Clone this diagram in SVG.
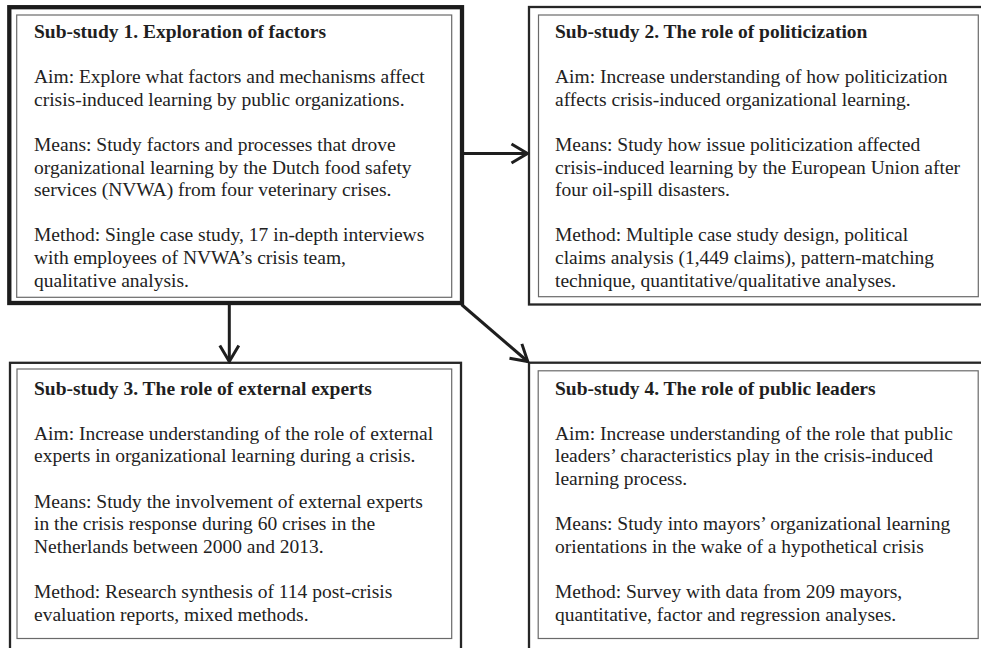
<svg xmlns="http://www.w3.org/2000/svg" width="981" height="648" viewBox="0 0 981 648">
  <defs>
    <style>
      .outer { fill: none; stroke: #262626; stroke-width: 2.3; }
      .outer-main { fill: none; stroke: #1c1c1c; stroke-width: 4.3; }
      .inner { fill: none; stroke: #6a6a6a; stroke-width: 1.2; }
      .title { font-family: "Liberation Serif", "Times New Roman", serif; font-size: 19.5px; font-weight: bold; fill: #1f1f1f; }
      .body { font-family: "Liberation Serif", "Times New Roman", serif; font-size: 19.5px; fill: #222; }
      .conn { fill: none; stroke: #1e1e1e; stroke-width: 3; }
    </style>
    <marker id="chevron" viewBox="-19 -12 21 24" markerWidth="21" markerHeight="24" refX="0" refY="0" orient="auto" markerUnits="userSpaceOnUse">
      <path d="M-16,-9.5 L0,0 L-16,9.5" fill="none" stroke="#1e1e1e" stroke-width="3" stroke-linejoin="miter"/>
    </marker>
  </defs>
  <rect width="981" height="648" fill="#ffffff"/>

  <!-- Sub-study 1 -->
  <g id="study1">
    <rect class="outer-main" x="9.3" y="7.2" width="452.7" height="295.8"/>
    <rect class="inner" x="16.7" y="15" width="435" height="282.3"/>
    <text class="title" x="34" y="38">Sub-study 1. Exploration of factors</text>
    <text class="body" x="34">
      <tspan x="34" y="83.2">Aim: Explore what factors and mechanisms affect</tspan>
      <tspan x="34" y="105.8">crisis-induced learning by public organizations.</tspan>
      <tspan x="34" y="151">Means: Study factors and processes that drove</tspan>
      <tspan x="34" y="173.6">organizational learning by the Dutch food safety</tspan>
      <tspan x="34" y="196.2">services (NVWA) from four veterinary crises.</tspan>
      <tspan x="34" y="241.4">Method: Single case study, 17 in-depth interviews</tspan>
      <tspan x="34" y="264">with employees of NVWA’s crisis team,</tspan>
      <tspan x="34" y="286.6">qualitative analysis.</tspan>
    </text>
  </g>

  <!-- Sub-study 2 -->
  <g id="study2">
    <rect class="outer" x="529" y="7" width="460" height="297.5"/>
    <rect class="inner" x="538.5" y="15" width="439.8" height="281.7"/>
    <text class="title" x="555" y="38">Sub-study 2. The role of politicization</text>
    <text class="body" x="555">
      <tspan x="555" y="83.2">Aim: Increase understanding of how politicization</tspan>
      <tspan x="555" y="105.8">affects crisis-induced organizational learning.</tspan>
      <tspan x="555" y="151">Means: Study how issue politicization affected</tspan>
      <tspan x="555" y="173.6">crisis-induced learning by the European Union after</tspan>
      <tspan x="555" y="196.2">four oil-spill disasters.</tspan>
      <tspan x="555" y="241.4">Method: Multiple case study design, political</tspan>
      <tspan x="555" y="264">claims analysis (1,449 claims), pattern-matching</tspan>
      <tspan x="555" y="286.6">technique, quantitative/qualitative analyses.</tspan>
    </text>
  </g>

  <!-- Sub-study 3 -->
  <g id="study3">
    <rect class="outer" x="10" y="362.8" width="451" height="295"/>
    <rect class="inner" x="17" y="369" width="434.7" height="269.5"/>
    <text class="title" x="34" y="394.5">Sub-study 3. The role of external experts</text>
    <text class="body" x="34">
      <tspan x="34" y="439.7">Aim: Increase understanding of the role of external</tspan>
      <tspan x="34" y="462.3">experts in organizational learning during a crisis.</tspan>
      <tspan x="34" y="507.5">Means: Study the involvement of external experts</tspan>
      <tspan x="34" y="530.1">in the crisis response during 60 crises in the</tspan>
      <tspan x="34" y="552.7">Netherlands between 2000 and 2013.</tspan>
      <tspan x="34" y="597.9">Method: Research synthesis of 114 post-crisis</tspan>
      <tspan x="34" y="620.5">evaluation reports, mixed methods.</tspan>
    </text>
  </g>

  <!-- Sub-study 4 -->
  <g id="study4">
    <rect class="outer" x="529" y="362.7" width="460" height="295"/>
    <rect class="inner" x="538.2" y="370.8" width="440" height="267.7"/>
    <text class="title" x="555" y="394.5">Sub-study 4. The role of public leaders</text>
    <text class="body" x="555">
      <tspan x="555" y="439.7">Aim: Increase understanding of the role that public</tspan>
      <tspan x="555" y="462.3">leaders’ characteristics play in the crisis-induced</tspan>
      <tspan x="555" y="484.9">learning process.</tspan>
      <tspan x="555" y="530.1">Means: Study into mayors’ organizational learning</tspan>
      <tspan x="555" y="552.7">orientations in the wake of a hypothetical crisis</tspan>
      <tspan x="555" y="597.9">Method: Survey with data from 209 mayors,</tspan>
      <tspan x="555" y="620.5">quantitative, factor and regression analyses.</tspan>
    </text>
  </g>

  <!-- Connectors from sub-study 1 -->
  <g id="connectors">
    <line class="conn" x1="464" y1="153.5" x2="527.5" y2="153.5" marker-end="url(#chevron)"/>
    <line class="conn" x1="229.3" y1="305" x2="229.3" y2="361.5" marker-end="url(#chevron)"/>
    <line class="conn" x1="461.5" y1="304.5" x2="527.8" y2="361.5" marker-end="url(#chevron)"/>
  </g>
</svg>
